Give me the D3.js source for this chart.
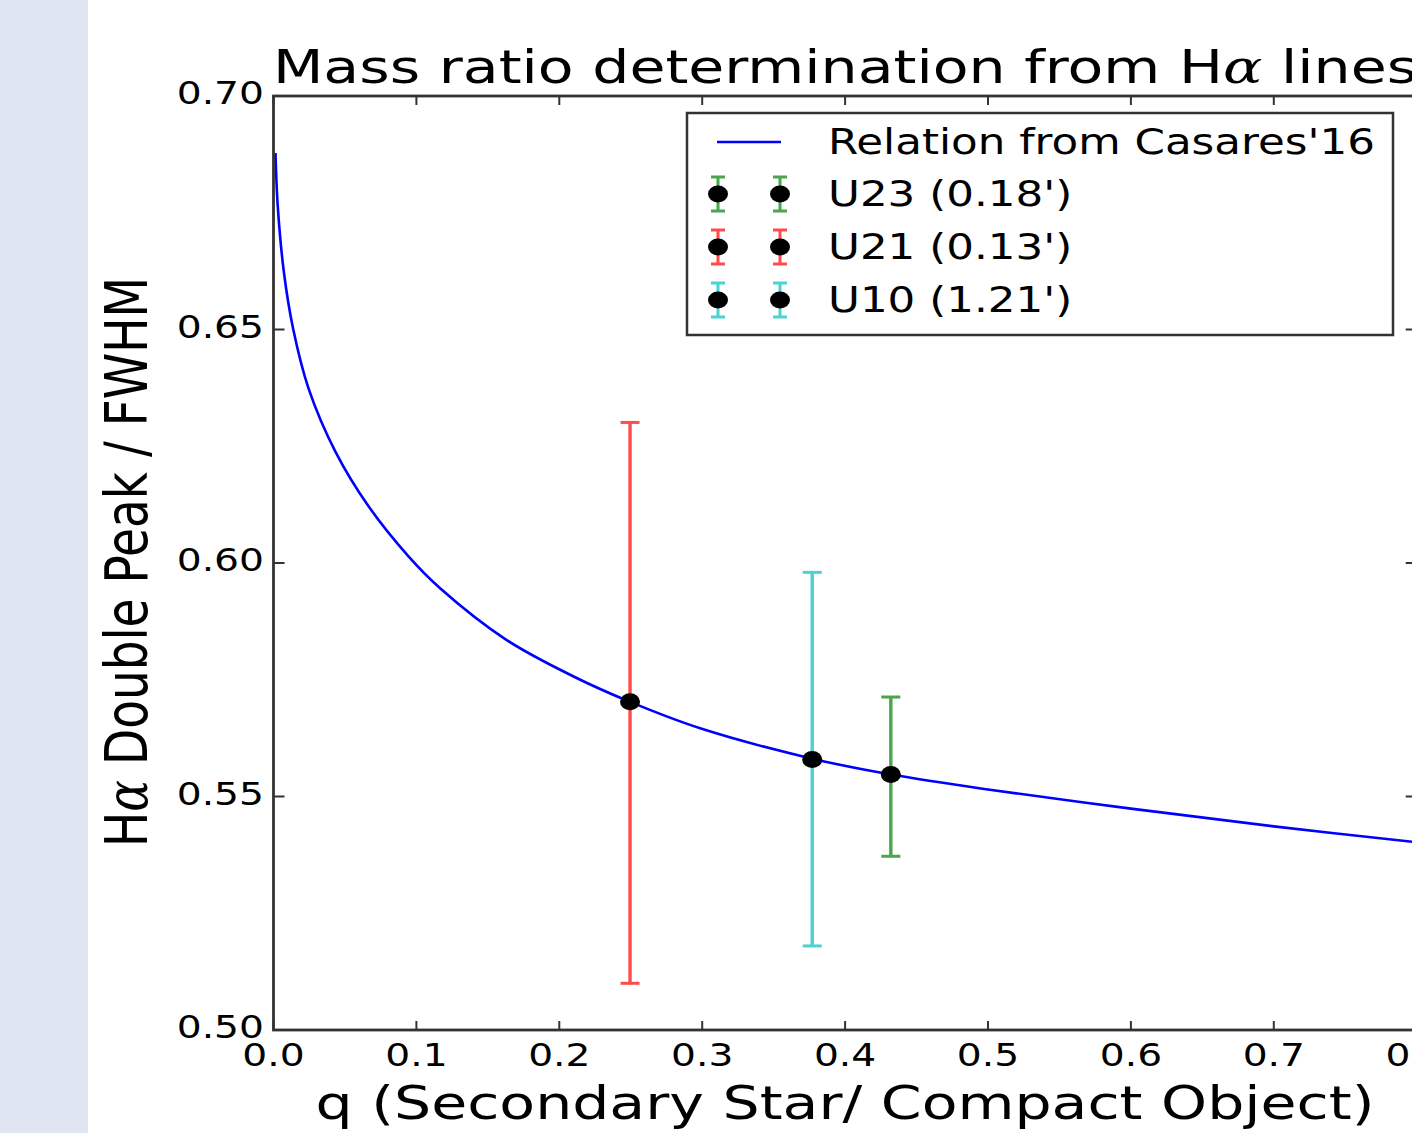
<!DOCTYPE html>
<html>
<head>
<meta charset="utf-8">
<script src="https://cdn.jsdelivr.net/npm/d3@7"></script>
<style>
  html, body { margin: 0; padding: 0; background: #ffffff; overflow: hidden; }
  svg { display: block; font-family: "DejaVu Sans", sans-serif; }
</style>
</head>
<body>
<svg id="chart" width="1412" height="1133"></svg>
<script>
// ---------------- data ----------------
const curveQ = [0.0014, 0.003, 0.0073, 0.0137, 0.0245, 0.0434, 0.0664, 0.094, 0.1166, 0.1632, 0.21, 0.25, 0.2986, 0.3769, 0.4322, 0.5, 0.6, 0.7, 0.8];
const curveRatio = [0.6878, 0.6763, 0.6622, 0.6502, 0.6374, 0.6238, 0.6122, 0.6016, 0.5946, 0.5835, 0.5757, 0.5702, 0.5646, 0.5581, 0.5547, 0.5515, 0.5474, 0.5436, 0.5402];

const seriesNames = ["U23 (0.18')", "U21 (0.13')", "U10 (1.21')"];
const seriesColors = ["#008000", "#ff0000", "#00bfbf"];
const pointQ = [0.432, 0.2495, 0.377];
const pointRatio = [0.5547, 0.5703, 0.5579];
const pointLow = [0.5372, 0.5100, 0.5180];
const pointHigh = [0.5713, 0.6301, 0.5980];

const xTicks = [0.0, 0.1, 0.2, 0.3, 0.4, 0.5, 0.6, 0.7, 0.8];
const xTickLabels = ["0.0", "0.1", "0.2", "0.3", "0.4", "0.5", "0.6", "0.7", "0.8"];
const yTicks = [0.50, 0.55, 0.60, 0.65, 0.70];
const yTickLabels = ["0.50", "0.55", "0.60", "0.65", "0.70"];

const lineLabel = "Relation from Casares'16";

// ---------------- layout ----------------
const W = 1412, H = 1133;
const SX = 1.245; // horizontal stretch of the original image
const svg = d3.select("#chart");

svg.append("rect").attr("x", 0).attr("y", 0).attr("width", 88).attr("height", H).attr("fill", "#dfe6f1");

const x = d3.scaleLinear().domain([0, 0.8]).range([273.5, 1416.7]);
const y = d3.scaleLinear().domain([0.5, 0.7]).range([1030, 96]);

const axisColor = "#333333";

function stretchedText(g, px, py, str, size, anchor) {
  return g.append("text")
    .attr("transform", `translate(${px},${py}) scale(${SX},1)`)
    .attr("font-size", size)
    .attr("text-anchor", anchor || "start")
    .attr("fill", "#000")
    .text(str);
}

// clip for plot
svg.append("defs").append("clipPath").attr("id", "plotclip")
  .append("rect").attr("x", x(0)).attr("y", y(0.7)).attr("width", x(0.8) - x(0)).attr("height", y(0.5) - y(0.7));

const plot = svg.append("g").attr("clip-path", "url(#plotclip)");

// curve
const line = d3.line().x((d, i) => x(curveQ[i])).y((d, i) => y(curveRatio[i])).curve(d3.curveCatmullRom.alpha(0.5));
plot.append("path").datum(curveRatio).attr("d", line)
  .attr("fill", "none").attr("stroke", "#0000ff").attr("stroke-width", 2.6);

// error bars
const pts = pointQ.map((q, i) => ({ q, v: pointRatio[i], lo: pointLow[i], hi: pointHigh[i], c: seriesColors[i] }));
const eb = plot.append("g").selectAll("g").data(pts).join("g").attr("opacity", 0.7);
eb.append("line").attr("x1", d => x(d.q)).attr("x2", d => x(d.q)).attr("y1", d => y(d.lo)).attr("y2", d => y(d.hi))
  .attr("stroke", d => d.c).attr("stroke-width", 3.4);
eb.append("line").attr("x1", d => x(d.q) - 9.5).attr("x2", d => x(d.q) + 9.5).attr("y1", d => y(d.lo)).attr("y2", d => y(d.lo))
  .attr("stroke", d => d.c).attr("stroke-width", 3);
eb.append("line").attr("x1", d => x(d.q) - 9.5).attr("x2", d => x(d.q) + 9.5).attr("y1", d => y(d.hi)).attr("y2", d => y(d.hi))
  .attr("stroke", d => d.c).attr("stroke-width", 3);
plot.append("g").selectAll("ellipse").data(pts).join("ellipse")
  .attr("cx", d => x(d.q)).attr("cy", d => y(d.v)).attr("rx", 10).attr("ry", 8.5).attr("fill", "#000");

// axes spines
svg.append("rect").attr("x", x(0)).attr("y", y(0.7)).attr("width", x(0.8) - x(0)).attr("height", y(0.5) - y(0.7))
  .attr("fill", "none").attr("stroke", axisColor).attr("stroke-width", 2.8);

// ticks (inward, all four sides)
const tickG = svg.append("g").attr("stroke", axisColor).attr("stroke-width", 2);
xTicks.forEach(t => {
  tickG.append("line").attr("x1", x(t)).attr("x2", x(t)).attr("y1", y(0.5)).attr("y2", y(0.5) - 9);
  tickG.append("line").attr("x1", x(t)).attr("x2", x(t)).attr("y1", y(0.7)).attr("y2", y(0.7) + 9);
});
yTicks.forEach(t => {
  tickG.append("line").attr("x1", x(0)).attr("x2", x(0) + 11).attr("y1", y(t)).attr("y2", y(t));
  tickG.append("line").attr("x1", x(0.8)).attr("x2", x(0.8) - 11).attr("y1", y(t)).attr("y2", y(t));
});

// tick labels
const labG = svg.append("g");
xTicks.forEach((t, i) => stretchedText(labG, x(t), 1066, xTickLabels[i], 31.5, "middle"));
yTicks.forEach((t, i) => stretchedText(labG, 264, y(t) + 8, yTickLabels[i], 31.5, "end"));

// axis labels
stretchedText(svg, 845, 1119, "q (Secondary Star/ Compact Object)", 47, "middle");
const yl = svg.append("text")
  .attr("transform", `translate(147,562) scale(${SX},1) rotate(-90)`)
  .attr("font-size", 47).attr("text-anchor", "middle").attr("fill", "#000");
yl.append("tspan").text("H");
yl.append("tspan").attr("font-family", "DejaVu Serif").attr("font-style", "italic").text("α");
yl.append("tspan").text(" Double Peak / FWHM");

// title
const tt = svg.append("text")
  .attr("transform", `translate(845,83) scale(${SX},1)`)
  .attr("font-size", 47).attr("text-anchor", "middle").attr("fill", "#000");
tt.append("tspan").text("Mass ratio determination from H");
tt.append("tspan").attr("font-family", "DejaVu Serif").attr("font-style", "italic").text("α");
tt.append("tspan").text(" lines");

// legend
const leg = svg.append("g");
leg.append("rect").attr("x", 687).attr("y", 113).attr("width", 706).attr("height", 222)
  .attr("fill", "#fff").attr("stroke", axisColor).attr("stroke-width", 2.5);
const rowY = [142, 194, 247, 300];
leg.append("line").attr("x1", 717).attr("x2", 781).attr("y1", rowY[0]).attr("y2", rowY[0])
  .attr("stroke", "#0000ff").attr("stroke-width", 2.6);
stretchedText(leg, 828, rowY[0] + 12, lineLabel, 35, "start");
seriesNames.forEach((name, i) => {
  const cy = rowY[i + 1];
  [718, 780].forEach(cx => {
    const g = leg.append("g").attr("opacity", 0.7).attr("stroke", seriesColors[i]);
    g.append("line").attr("x1", cx).attr("x2", cx).attr("y1", cy - 17).attr("y2", cy + 17).attr("stroke-width", 3);
    g.append("line").attr("x1", cx - 7).attr("x2", cx + 7).attr("y1", cy - 17).attr("y2", cy - 17).attr("stroke-width", 3);
    g.append("line").attr("x1", cx - 7).attr("x2", cx + 7).attr("y1", cy + 17).attr("y2", cy + 17).attr("stroke-width", 3);
    leg.append("ellipse").attr("cx", cx).attr("cy", cy).attr("rx", 10).attr("ry", 8.5).attr("fill", "#000");
  });
  stretchedText(leg, 828, cy + 12, name, 35, "start");
});
</script>
</body>
</html>
